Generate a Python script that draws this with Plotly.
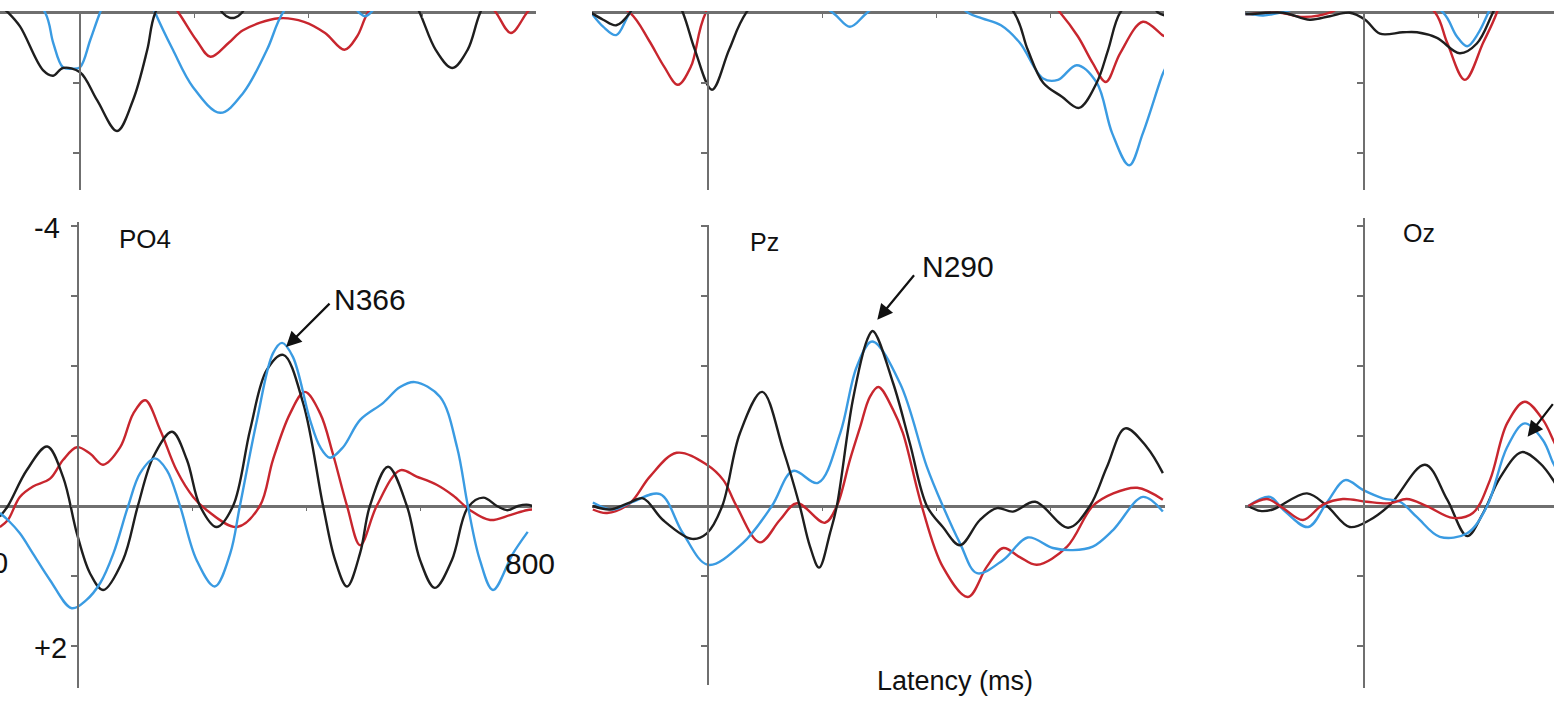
import plotly.graph_objects as go

W, H = 1554, 703

# ---------------- data (latency in ms, amplitude in microvolts, negative plotted up) -------------
# upper-left panel (cropped)
ul_black_t = [-140, -126, -105, -65, -47, -30, 0, 30, 65, 93, 118, 132, 190, 250, 262, 272, 284, 340, 450, 560, 596, 624, 653, 680, 702, 750, 800]
ul_black_v = [-0.1, 0.0, 0.2, 0.82, 0.9, 0.79, 0.85, 1.25, 1.69, 1.25, 0.53, 0.0, -0.8, 0.0, 0.07, 0.07, 0.0, -0.8, -1.0, -0.6, 0.0, 0.53, 0.79, 0.53, 0.0, -0.8, -0.6]
ul_red_t = [-140, 0, 120, 173, 204, 229, 261, 286, 349, 393, 430, 464, 486, 505, 560, 650, 710, 730, 756, 784, 800]
ul_red_v = [-0.8, -1.0, -0.6, 0.0, 0.39, 0.63, 0.43, 0.25, 0.08, 0.13, 0.29, 0.53, 0.34, 0.0, -0.6, -0.6, -0.2, 0.0, 0.29, 0.0, -0.15]
ul_blue_t = [-140, -61, -47, -30, -14, 0, 18, 35, 85, 132, 163, 198, 246, 286, 328, 356, 420, 490, 500, 510, 570, 700, 800]
ul_blue_v = [-0.8, 0.0, 0.43, 0.78, 0.8, 0.78, 0.39, 0.0, -1.0, 0.0, 0.53, 1.06, 1.43, 1.15, 0.53, 0.0, -0.6, 0.0, 0.05, 0.0, -0.6, -0.8, -0.5]

# upper-middle panel (cropped)
um_black_t = [-205, -184, -161, -137, -90, -44, -23, 7, 37, 67, 200, 400, 537, 561, 588, 621, 651, 682, 702, 723, 760, 790, 802]
um_black_v = [0.0, 0.1, 0.18, 0.0, -0.8, 0.0, 0.53, 1.1, 0.53, 0.0, -1.2, -1.2, 0.0, 0.53, 1.0, 1.2, 1.36, 1.0, 0.53, 0.0, -0.3, 0.0, 0.04]
um_red_t = [-205, -137, -104, -77, -53, -30, -4, 100, 300, 500, 618, 649, 675, 698, 723, 763, 797, 802]
um_red_v = [-0.3, 0.0, 0.39, 0.77, 1.03, 0.77, 0.0, -1.2, -1.5, -1.0, 0.0, 0.34, 0.72, 0.99, 0.58, 0.13, 0.32, 0.34]
um_blue_t = [-205, -184, -161, -137, -60, 100, 219, 249, 279, 370, 456, 481, 514, 547, 588, 614, 647, 682, 709, 739, 763, 797, 802]
um_blue_v = [0.0, 0.2, 0.32, 0.0, -0.8, -0.6, 0.0, 0.2, 0.0, -0.6, 0.0, 0.08, 0.18, 0.43, 0.94, 0.96, 0.75, 1.0, 1.72, 2.18, 1.72, 0.89, 0.8]

# upper-right panel (cropped)
ur_black_t = [-208, -200, -142, -95, -60, -25, 2, 28, 68, 93, 128, 168, 198, 226, 280, 334]
ur_black_v = [0.02, 0.02, 0.0, 0.1, 0.05, 0.0, 0.1, 0.3, 0.28, 0.28, 0.36, 0.58, 0.44, 0.0, -1.0, -1.2]
ur_red_t = [-208, -200, -147, -107, -60, 0, 60, 125, 146, 177, 209, 233, 280, 334]
ur_red_v = [0.02, 0.02, 0.0, 0.06, 0.0, -0.3, -0.4, 0.0, 0.43, 0.96, 0.43, 0.0, -1.2, -1.5]
ur_blue_t = [-208, -200, -177, -147, -60, 60, 139, 163, 181, 200, 218, 270, 334]
ur_blue_v = [0.02, 0.02, 0.04, 0.0, -0.2, -0.4, 0.0, 0.34, 0.48, 0.3, 0.0, -1.0, -1.2]

# PO4
po4_black_t = [-137, -123, -90, -54, -26, -2, 21, 44, 79, 105, 132, 165, 191, 214, 243, 272, 302, 331, 360, 395, 430, 451, 472, 495, 512, 544, 577, 600, 626, 656, 684, 711, 735, 753, 772, 787, 797]
po4_black_v = [0.15, 0.0, -0.51, -0.85, -0.41, 0.39, 0.96, 1.2, 0.77, 0.0, -0.7, -1.06, -0.66, 0.0, 0.30, 0.0, -1.09, -1.94, -2.16, -1.47, 0.0, 0.77, 1.15, 0.67, 0.0, -0.56, 0.0, 0.77, 1.17, 0.77, 0.02, -0.12, 0.0, 0.06, 0.0, -0.02, 0.0]
po4_red_t = [-137, -123, -102, -79, -49, -26, -2, 21, 44, 74, 97, 118, 144, 173, 202, 226, 279, 319, 342, 372, 398, 425, 447, 472, 495, 524, 565, 594, 630, 658, 688, 723, 758, 787, 797]
po4_red_v = [0.3, 0.2, -0.13, -0.28, -0.39, -0.66, -0.84, -0.75, -0.59, -0.84, -1.32, -1.51, -1.09, -0.51, -0.13, 0.06, 0.30, 0.0, -0.66, -1.32, -1.63, -1.32, -0.75, 0.0, 0.56, 0.0, -0.51, -0.42, -0.30, -0.15, 0.06, 0.2, 0.13, 0.06, 0.05]
po4_blue_t = [-137, -123, -102, -79, -49, -11, 15, 39, 62, 88, 109, 135, 156, 179, 208, 240, 267, 284, 314, 342, 358, 377, 407, 425, 442, 465, 495, 535, 565, 591, 635, 665, 684, 705, 728, 763, 789]
po4_blue_v = [0.1, 0.2, 0.39, 0.68, 1.06, 1.46, 1.34, 1.1, 0.68, 0.0, -0.47, -0.68, -0.51, 0.0, 0.77, 1.15, 0.68, 0.0, -1.23, -2.18, -2.33, -2.13, -1.23, -0.84, -0.69, -0.84, -1.23, -1.47, -1.7, -1.77, -1.56, -0.84, 0.0, 0.77, 1.2, 0.68, 0.37]

# Pz
pz_black_t = [-202, -172, -140, -114, -79, -28, -2, 25, 56, 95, 132, 161, 179, 195, 214, 226, 254, 279, 289, 325, 354, 384, 412, 442, 477, 507, 535, 574, 632, 670, 700, 732, 770, 798]
pz_black_v = [0.0, 0.05, -0.04, -0.11, 0.2, 0.47, 0.39, 0.0, -1.04, -1.63, -0.8, 0.0, 0.58, 0.88, 0.39, 0.0, -1.51, -2.37, -2.5, -1.75, -0.9, 0.0, 0.3, 0.56, 0.2, 0.03, 0.08, -0.06, 0.31, 0.0, -0.56, -1.11, -0.84, -0.47]
pz_red_t = [-202, -177, -137, -102, -55, -2, 27, 50, 91, 126, 156, 205, 226, 249, 267, 284, 299, 325, 342, 375, 412, 456, 489, 518, 547, 577, 630, 675, 711, 753, 798]
pz_red_v = [0.05, 0.1, -0.04, -0.42, -0.76, -0.59, -0.37, 0.0, 0.52, 0.2, -0.04, 0.24, 0.0, -0.66, -1.13, -1.56, -1.7, -1.37, -1.04, 0.0, 0.87, 1.3, 0.87, 0.6, 0.73, 0.84, 0.58, 0.0, -0.18, -0.26, -0.09]
pz_blue_t = [-202, -167, -132, -84, -44, 0, 61, 112, 149, 193, 232, 261, 288, 337, 384, 412, 442, 472, 518, 561, 605, 640, 675, 711, 763, 798]
pz_blue_v = [-0.05, 0.05, -0.06, -0.17, 0.39, 0.84, 0.53, 0.0, -0.5, -0.33, -1.04, -1.99, -2.35, -1.75, -0.56, 0.0, 0.53, 0.96, 0.77, 0.45, 0.6, 0.63, 0.58, 0.34, -0.13, 0.08]

# Oz (cropped on the right)
oz_black_t = [-203, -182, -160, -100, -65, -25, 10, 46, 107, 146, 181, 209, 239, 277, 309, 332, 340]
oz_black_v = [0.0, 0.07, 0.05, -0.18, 0.0, 0.3, 0.2, -0.02, -0.59, -0.09, 0.43, 0.1, -0.41, -0.77, -0.61, -0.37, -0.25]
oz_red_t = [-203, -170, -142, -107, -72, -37, 5, 46, 75, 110, 156, 191, 221, 251, 282, 314, 332, 340]
oz_red_v = [0.0, -0.1, 0.03, 0.2, -0.02, -0.1, -0.06, -0.04, -0.1, 0.0, 0.17, 0.1, -0.37, -1.18, -1.49, -1.23, -0.94, -0.8]
oz_blue_t = [-203, -165, -142, -98, -65, -33, -2, 33, 63, 93, 133, 181, 216, 251, 282, 314, 332, 340]
oz_blue_v = [0.0, -0.13, 0.05, 0.3, -0.05, -0.37, -0.23, -0.11, -0.06, 0.16, 0.44, 0.39, 0.0, -0.84, -1.18, -0.94, -0.61, -0.5]

bottom_ticks = [-4, -3, -2, -1, 0, 1, 2]
top_ticks = [0, 1, 2]
x_ticks = [200, 400, 600]

BLACK, RED, BLUE = "#1e1e1e", "#c8262e", "#3a9be2"
AXIS = "#6f6f6f"
K = 0.57   # px per ms
S = 70.0   # px per microvolt

fig = go.Figure()


def add_panel(i, xpx, zero_x, ypx, zero_y, yticks, series, zlw):
    xr = [(xpx[0] - zero_x) / K, (xpx[1] - zero_x) / K]
    yr = [(ypx[1] - zero_y) / S, (ypx[0] - zero_y) / S]
    sfx = "" if i == 1 else str(i)
    fig.layout["xaxis" + sfx] = dict(
        domain=[xpx[0] / W, xpx[1] / W], range=xr, anchor="free",
        position=1 - zero_y / H, showline=False, zeroline=False, showgrid=False,
        ticks="outside", ticklen=4, tickwidth=1, tickcolor=AXIS,
        tickvals=x_ticks, showticklabels=False, fixedrange=True)
    fig.layout["yaxis" + sfx] = dict(
        domain=[1 - ypx[1] / H, 1 - ypx[0] / H], range=yr, anchor="free",
        position=zero_x / W, showline=True, linecolor=AXIS, linewidth=2,
        zeroline=True, zerolinecolor=AXIS, zerolinewidth=zlw, showgrid=False,
        ticks="outside", ticklen=6, tickwidth=1.5, tickcolor=AXIS,
        tickvals=yticks, showticklabels=False, fixedrange=True)
    for t, v, c in series:
        fig.add_trace(go.Scatter(x=t, y=v, mode="lines", xaxis="x" + sfx, yaxis="y" + sfx,
                                 line=dict(color=c, width=2.4, shape="spline", smoothing=1.0),
                                 hoverinfo="skip", showlegend=False))


TOP = (11, 190)
add_panel(1, (0, 536), 80, TOP, 12.7, top_ticks,
          [(ul_red_t, ul_red_v, RED), (ul_blue_t, ul_blue_v, BLUE), (ul_black_t, ul_black_v, BLACK)], 2.5)
add_panel(2, (592, 1164), 708, TOP, 12.7, top_ticks,
          [(um_red_t, um_red_v, RED), (um_blue_t, um_blue_v, BLUE), (um_black_t, um_black_v, BLACK)], 2.5)
add_panel(3, (1245, 1554), 1364, TOP, 12.7, top_ticks,
          [(ur_red_t, ur_red_v, RED), (ur_blue_t, ur_blue_v, BLUE), (ur_black_t, ur_black_v, BLACK)], 2.5)
add_panel(4, (0, 532), 78, (222, 688), 506, bottom_ticks,
          [(po4_red_t, po4_red_v, RED), (po4_black_t, po4_black_v, BLACK), (po4_blue_t, po4_blue_v, BLUE)], 3)
add_panel(5, (592, 1165), 708, (225, 685), 506, bottom_ticks,
          [(pz_red_t, pz_red_v, RED), (pz_blue_t, pz_blue_v, BLUE), (pz_black_t, pz_black_v, BLACK)], 3)
add_panel(6, (1245, 1554), 1364, (218, 688), 506, bottom_ticks,
          [(oz_black_t, oz_black_v, BLACK), (oz_blue_t, oz_blue_v, BLUE), (oz_red_t, oz_red_v, RED)], 3)


def txt(s, x, y, size, anchor="left"):
    fig.add_annotation(text=s, x=x / W, y=1 - y / H, xref="paper", yref="paper",
                       xanchor=anchor, yanchor="middle", showarrow=False,
                       font=dict(size=size, color="#111111"))


txt("-4", 62, 228, 29, "right")
txt("+2", 69, 648, 29, "right")
txt("-200", 10, 563, 29, "right")
txt("800", 503, 563, 30)
txt("PO4", 117, 239, 26)
txt("Pz", 748, 242, 25)
txt("Oz", 1401, 233, 25)
txt("N366", 332, 299, 30)
txt("N290", 920, 266, 30)
txt("Latency (ms)", 955, 681, 27, "center")

# arrows pointing at the marked peaks
for ref, t0, v0, ax, ay in [("4", 365, -2.27, 45, -45), ("5", 297, -2.66, 38, -46), ("6", 287, -0.99, 42, -34)]:
    fig.add_annotation(x=t0, y=v0, xref="x" + ref, yref="y" + ref, text="", showarrow=True,
                       ax=ax, ay=ay, arrowhead=2, arrowsize=1.4, arrowwidth=2.2,
                       arrowcolor="#111111", standoff=0)

fig.update_layout(width=W, height=H, margin=dict(l=0, r=0, t=0, b=0),
                  paper_bgcolor="white", plot_bgcolor="white", showlegend=False,
                  font=dict(family="Arial, 'Liberation Sans', sans-serif", color="#111111"))

fig.write_html("out.html", config={"displayModeBar": False},
               post_script="document.body.style.margin='0px';document.body.style.overflow='hidden';")
